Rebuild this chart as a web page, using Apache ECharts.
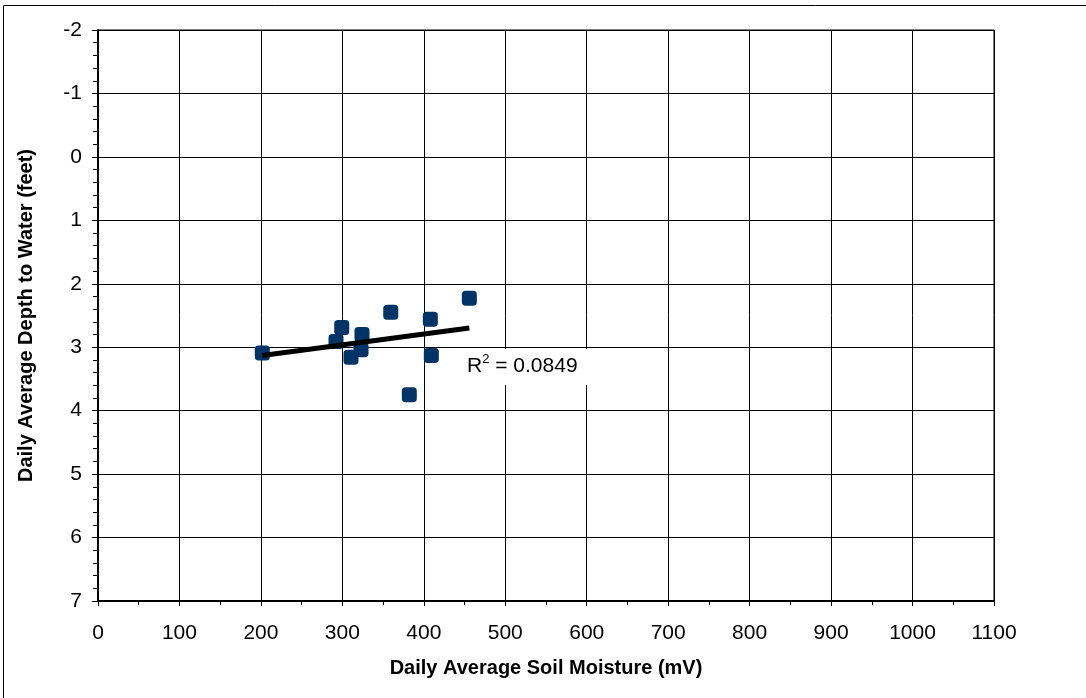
<!DOCTYPE html>
<html><head><meta charset="utf-8">
<script src="https://cdn.jsdelivr.net/npm/echarts@6/dist/echarts.min.js"></script>
<style>html,body{margin:0;padding:0;background:#fff}#c{width:1086px;height:698px}</style>
</head><body><div id="c"></div>
<script>
const soilMoisture = [201.7, 299.2, 292.2, 324.1, 322.9, 310.6, 359.4, 408.0, 409.2, 382.2, 455.9];
const depthToWater = [3.09, 2.69, 2.91, 2.80, 3.04, 3.16, 2.45, 2.56, 3.13, 3.75, 2.23];
const r2Text = '0.0849';
const xTitle = 'Daily Average Soil Moisture (mV)';
const yTitle = 'Daily Average Depth to Water (feet)';

const pts = soilMoisture.map((x, i) => [x, depthToWater[i]]);
const n = pts.length;
const mx = soilMoisture.reduce((a, b) => a + b, 0) / n;
const my = depthToWater.reduce((a, b) => a + b, 0) / n;
let sxy = 0, sxx = 0;
for (let i = 0; i < n; i++) { sxy += (soilMoisture[i] - mx) * (depthToWater[i] - my); sxx += (soilMoisture[i] - mx) ** 2; }
const slope = sxy / sxx, icpt = my - slope * mx;
const xMin = Math.min(...soilMoisture), xMax = Math.max(...soilMoisture);
const trend = [[xMin, icpt + slope * xMin], [xMax, icpt + slope * xMax]];

const font = 'Liberation Sans, Arial, sans-serif';
const chart = echarts.init(document.getElementById('c'));
chart.setOption({
  animation: false,
  backgroundColor: '#fff',
  grid: { left: 98, right: 92, top: 30, bottom: 97, show: true, borderColor: '#000', borderWidth: 1 },
  xAxis: {
    type: 'value', min: 0, max: 1100, interval: 100,
    name: xTitle, nameLocation: 'middle', nameGap: 57,
    nameTextStyle: { fontFamily: font, fontSize: 20, fontWeight: 'bold', color: '#000' },
    axisLine: { show: true, onZero: false, lineStyle: { color: '#000', width: 2 } },
    axisTick: { show: true, length: 5, lineStyle: { color: '#000' } },
    minorTick: { show: true, splitNumber: 2, length: 4, lineStyle: { color: '#000' } },
    axisLabel: { fontFamily: font, fontSize: 21, color: '#000', margin: 22, formatter: v => String(v) },
    splitLine: { show: true, lineStyle: { color: '#000', width: 1 } }
  },
  yAxis: {
    type: 'value', min: -2, max: 7, interval: 1, inverse: true,
    name: yTitle, nameLocation: 'middle', nameGap: 62,
    nameTextStyle: { fontFamily: font, fontSize: 20, fontWeight: 'bold', color: '#000' },
    axisLine: { show: true, onZero: false, lineStyle: { color: '#000', width: 2 } },
    axisTick: { show: true, length: 6, lineStyle: { color: '#000' } },
    minorTick: { show: true, splitNumber: 5, length: 5, lineStyle: { color: '#000' } },
    axisLabel: { fontFamily: font, fontSize: 21, color: '#000', margin: 16 },
    splitLine: { show: true, lineStyle: { color: '#000', width: 1 } }
  },
  series: [
    {
      type: 'scatter', data: pts, symbol: 'roundRect', symbolSize: 15,
      itemStyle: { color: '#003366', opacity: 1 }, z: 3
    },
    {
      type: 'line', data: trend, symbol: 'none', showSymbol: false,
      lineStyle: { color: '#000', width: 5 }, z: 4
    }
  ],
  graphic: [
    { type: 'rect', left: 1, top: 3, shape: { width: 1083, height: 693 }, style: { fill: 'none', stroke: '#000', lineWidth: 1 }, silent: true, z: -1 },
    { type: 'text', left: 463, top: 349, z: 10,
      style: { text: '{a|R}{s|2}{a| = ' + r2Text + '}', backgroundColor: '#fff', padding: [4, 12, 8, 4],
        rich: { a: { fontFamily: font, fontSize: 21, color: '#000', verticalAlign: 'bottom' },
                s: { fontFamily: font, fontSize: 13, color: '#000', verticalAlign: 'top', padding: [0, 0, 11, 0] } } } }
  ]
});
</script></body></html>
